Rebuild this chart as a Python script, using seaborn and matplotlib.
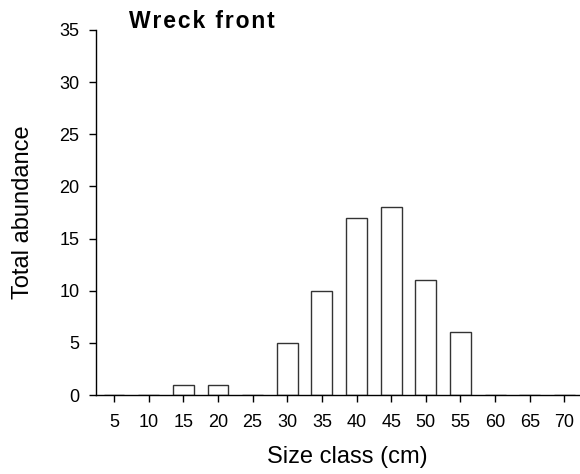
import matplotlib
matplotlib.use("Agg")
import matplotlib.pyplot as plt
import seaborn as sns
import pandas as pd

size_classes = [5, 10, 15, 20, 25, 30, 35, 40, 45, 50, 55, 60, 65, 70]
abundance = [0, 0, 1, 1, 0, 5, 10, 17, 18, 11, 6, 0, 0, 0]
y_ticks = [0, 5, 10, 15, 20, 25, 30, 35]
title = "Wreck front"

sns.set_style("ticks")
plt.rcParams['font.family'] = ['Liberation Sans', 'DejaVu Sans']
plt.rcParams['text.color'] = 'black'

df = pd.DataFrame({"size": [str(s) for s in size_classes], "abund": abundance})

W, H = 580, 474
fig = plt.figure(figsize=(W / 100, H / 100), dpi=100)
ax = fig.add_axes([96 / W, 1 - 395 / H, 484 / W, 365 / H])
sns.barplot(data=df, x="size", y="abund", ax=ax, color="white",
            edgecolor="#333333", linewidth=1.0, width=0.6, saturation=1)

ax.set_ylim(0, 35)
ax.set_yticks(y_ticks)
ax.set_xlim(-0.52, 13.45)
for s in ["top", "right"]:
    ax.spines[s].set_visible(False)
for s in ["left", "bottom"]:
    ax.spines[s].set_linewidth(1.0)
    ax.spines[s].set_color("black")
ax.tick_params(axis="both", direction="out", length=5, width=1, colors="black", labelsize=13)
ax.tick_params(axis="x", pad=9)
ax.tick_params(axis="y", pad=7)
ax.set_xlabel("")
ax.set_ylabel("")
fig.text(347 / W, 1 - 463 / H, "Size class (cm)", fontsize=17, ha="center", va="baseline",
         color="black")
fig.text(23 / W, 1 - 212 / H, "Total abundance", fontsize=17, ha="center", va="center",
         rotation=90, color="black")
spaced = "\u200a".join(list(title))
fig.text(129 / W, 1 - 28 / H, spaced, fontsize=16.5, fontweight="bold", ha="left",
         va="baseline", color="black")

fig.savefig("out.png", dpi=100)
